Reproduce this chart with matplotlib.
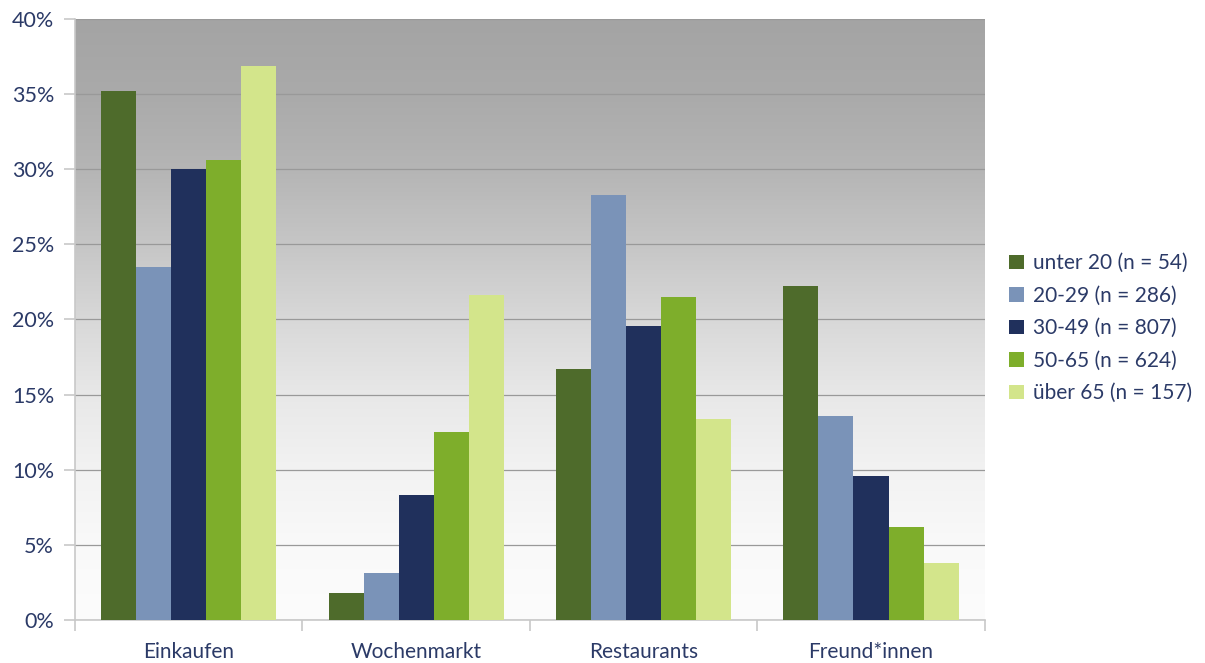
import matplotlib

matplotlib.use("Agg")

import matplotlib.pyplot as plt
import numpy as np
from matplotlib.colors import LinearSegmentedColormap
from matplotlib.patches import Patch
from matplotlib.ticker import FuncFormatter, MultipleLocator

CATEGORIES = ["Einkaufen", "Wochenmarkt", "Restaurants", "Freund*innen"]
GROUPS = [
    "unter 20 (n = 54)",
    "20-29 (n = 286)",
    "30-49 (n = 807)",
    "50-65 (n = 624)",
    "über 65 (n = 157)",
]
UNDER_20 = [35.2, 1.8, 16.7, 22.2]
AGE_20_29 = [23.5, 3.1, 28.3, 13.6]
AGE_30_49 = [30.0, 8.3, 19.6, 9.6]
AGE_50_65 = [30.6, 12.5, 21.5, 6.2]
OVER_65 = [36.9, 21.6, 13.4, 3.8]

COLORS = ["#4e6b2b", "#7a93b8", "#20305c", "#7eae2b", "#d3e58b"]
TEXT_COLOR = "#2b3a67"

plt.rcParams["font.family"] = ["Lato", "DejaVu Sans"]

series = [UNDER_20, AGE_20_29, AGE_30_49, AGE_50_65, OVER_65]

fig = plt.figure(figsize=(12.05, 6.63), dpi=100)
ax = fig.add_axes([0.0622, 0.0649, 0.755, 0.9064])

# vertical gray-to-white gradient behind the bars (bottom -> top)
bg = LinearSegmentedColormap.from_list(
    "bg",
    [
        (0.0, "#fcfcfc"),
        (0.125, "#f9f9f9"),
        (0.25, "#f2f2f2"),
        (0.375, "#e8e8e8"),
        (0.5, "#d8d8d8"),
        (0.625, "#c6c6c6"),
        (0.75, "#b5b5b5"),
        (0.875, "#aaaaaa"),
        (1.0, "#a4a4a4"),
    ],
)
grad = np.linspace(0, 1, 256).reshape(-1, 1)
ax.imshow(grad, cmap=bg, aspect="auto", origin="lower",
          extent=(-0.5, len(CATEGORIES) - 0.5, 0, 40), zorder=0)

x = np.arange(len(CATEGORIES))
width = 0.154
for i, (values, color, label) in enumerate(zip(series, COLORS, GROUPS)):
    offset = (i - 2) * width
    ax.bar(x + offset, values, width=width, color=color, label=label, zorder=3)

ax.set_xlim(-0.5, len(CATEGORIES) - 0.5)
ax.set_ylim(0, 40)
ax.yaxis.set_major_locator(MultipleLocator(5))
ax.yaxis.set_major_formatter(FuncFormatter(lambda v, _: f"{v:.0f}%"))
ax.grid(axis="y", color="#999999", linewidth=0.9, zorder=1)
ax.set_axisbelow(True)

ax.set_xticks(x, CATEGORIES)
ax.set_xticks(np.arange(-0.5, len(CATEGORIES)), minor=True)
ax.tick_params(axis="x", which="major", length=0, pad=16, labelsize=15, labelcolor=TEXT_COLOR)
ax.tick_params(axis="x", which="minor", length=8, color="#c8c8c8", width=1.2)
ax.tick_params(axis="y", length=8, color="#c8c8c8", width=1.2, pad=7, labelsize=15.5, labelcolor=TEXT_COLOR)

for side in ["top", "right"]:
    ax.spines[side].set_visible(False)
for side in ["left", "bottom"]:
    ax.spines[side].set_color("#c8c8c8")
    ax.spines[side].set_linewidth(1.2)

handles = [Patch(facecolor=c, label=g) for c, g in zip(COLORS, GROUPS)]
fig.legend(
    handles=handles,
    loc="center left",
    bbox_to_anchor=(0.822, 0.505),
    frameon=False,
    fontsize=15,
    labelcolor=TEXT_COLOR,
    handlelength=0.7,
    handleheight=0.7,
    handletextpad=0.45,
    labelspacing=0.6,
)

fig.savefig("out.png", dpi=100, facecolor="white")
